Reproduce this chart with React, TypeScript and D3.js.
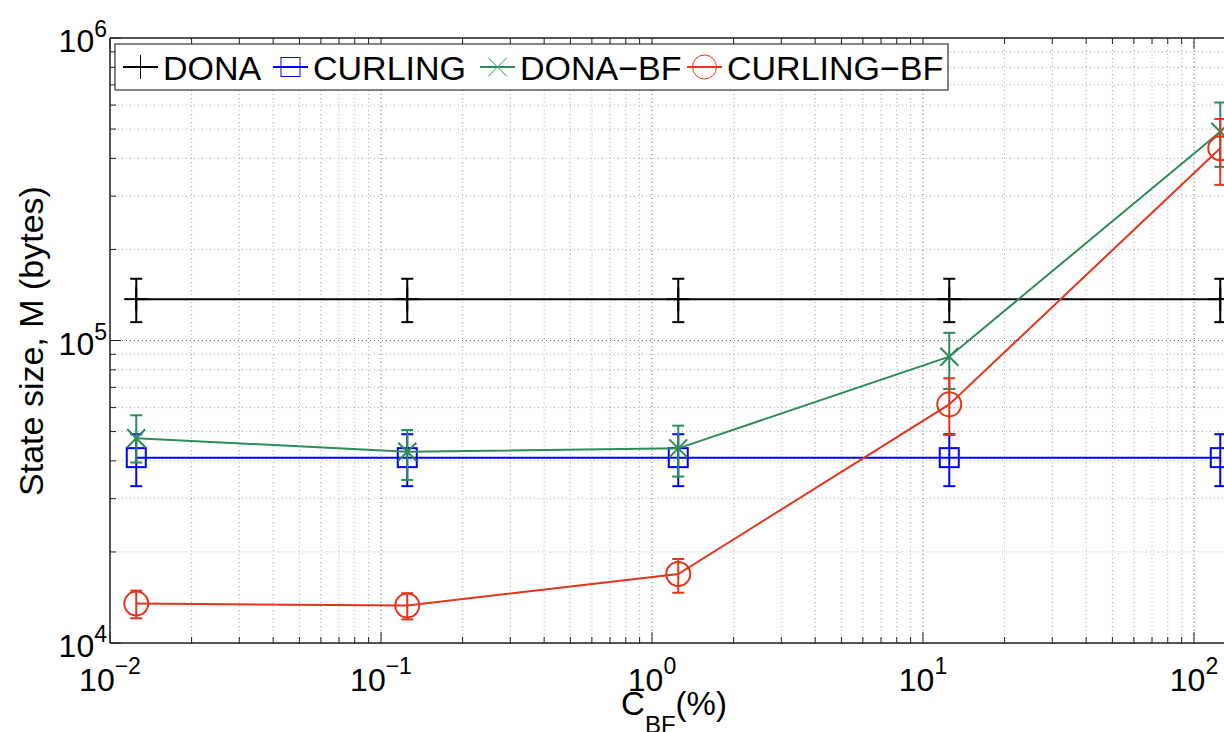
import * as d3 from 'd3';

// C_BF (%) sample points
const xValues = [0.0125, 0.125, 1.25, 12.5, 125];

const donaMean = [137000, 137000, 137000, 137000, 137000];
const donaLow = [115000, 115000, 115000, 115000, 115000];
const donaHigh = [160000, 160000, 160000, 160000, 160000];

const curlingMean = [41000, 41000, 41000, 41000, 41000];
const curlingLow = [33000, 33000, 33000, 33000, 33000];
const curlingHigh = [49000, 49000, 49000, 49000, 49000];

const donaBfMean = [47500, 42900, 44000, 88400, 490000];
const donaBfLow = [39500, 34600, 35500, 69100, 375000];
const donaBfHigh = [56600, 50600, 52300, 106000, 612000];

const curlingBfMean = [13500, 13300, 16900, 61500, 432000];
const curlingBfLow = [12070, 11970, 14660, 48700, 327000];
const curlingBfHigh = [14900, 14600, 18950, 75000, 540000];

const seriesNames = ['DONA', 'CURLING', 'DONA\u2212BF', 'CURLING\u2212BF'];
const seriesColors = ['#000000', '#0000ff', '#2e8b5a', '#e3341c'];
const seriesMarkers = ['plus', 'square', 'cross', 'circle'];

const xTickExps = [-2, -1, 0, 1, 2];
const yTickExps = [4, 5, 6];

const W = 1224;
const H = 732;
const margin = { left: 110, top: 38, bottom: 643 };
const decadeW = 271;
const xMax = Math.pow(10, 2.16);

const FONT = '"Liberation Sans", Arial, Helvetica, sans-serif';

const x = d3
  .scaleLog()
  .domain([0.01, xMax])
  .range([margin.left, margin.left + decadeW * Math.log10(xMax / 0.01)]);
const y = d3.scaleLog().domain([1e4, 1e6]).range([margin.bottom, margin.top]);

const series = seriesNames.map((name, i) => ({
  name,
  color: seriesColors[i],
  marker: seriesMarkers[i],
  mean: [donaMean, curlingMean, donaBfMean, curlingBfMean][i],
  low: [donaLow, curlingLow, donaBfLow, curlingBfLow][i],
  high: [donaHigh, curlingHigh, donaBfHigh, curlingBfHigh][i],
}));

const isMajor = (v: number) => Math.abs(Math.log10(v) - Math.round(Math.log10(v))) < 1e-9;

function Marker({ kind, cx, cy, color, sw = 2 }: { kind: string; cx: number; cy: number; color: string; sw?: number }) {
  if (kind === 'plus') {
    return (
      <g stroke={color} strokeWidth={sw}>
        <line x1={cx - 12} x2={cx + 12} y1={cy} y2={cy} />
        <line x1={cx} x2={cx} y1={cy - 12} y2={cy + 12} />
      </g>
    );
  }
  if (kind === 'square') {
    return <rect x={cx - 9.5} y={cy - 9.5} width={19} height={19} fill="none" stroke={color} strokeWidth={sw} />;
  }
  if (kind === 'cross') {
    return (
      <g stroke={color} strokeWidth={sw}>
        <line x1={cx - 9} x2={cx + 9} y1={cy - 9} y2={cy + 9} />
        <line x1={cx - 9} x2={cx + 9} y1={cy + 9} y2={cy - 9} />
      </g>
    );
  }
  return <circle cx={cx} cy={cy} r={12} fill="none" stroke={color} strokeWidth={sw} />;
}

export default function App() {
  const xTicks = x.ticks();
  const yTicks = y.ticks();
  const line = d3
    .line<number>()
    .x((_, i) => x(xValues[i]))
    .y((d) => y(d));

  const legendX = [123, 273, 480, 687];

  return (
    <svg
      width={W}
      height={H}
      style={{ position: 'absolute', left: 0, top: 0, fontFamily: FONT }}
    >
      <rect width={W} height={H} fill="#fff" />

      {/* grid */}
      {xTicks.map((t, i) => (
        <line
          key={'gx' + i}
          x1={x(t)}
          x2={x(t)}
          y1={margin.top}
          y2={margin.bottom}
          stroke={isMajor(t) ? '#666' : '#aaa'}
          strokeWidth={1}
          strokeDasharray="1,3"
        />
      ))}
      {yTicks.map((t, i) => (
        <line
          key={'gy' + i}
          x1={margin.left}
          x2={W}
          y1={y(t)}
          y2={y(t)}
          stroke={isMajor(t) ? '#666' : '#aaa'}
          strokeWidth={1}
          strokeDasharray="1,3"
        />
      ))}

      {/* axes box */}
      <line x1={margin.left} x2={W} y1={margin.bottom} y2={margin.bottom} stroke="#222" strokeWidth={1.5} />
      <line x1={margin.left} x2={W} y1={margin.top} y2={margin.top} stroke="#222" strokeWidth={1.5} />
      <line x1={margin.left} x2={margin.left} y1={margin.top} y2={margin.bottom} stroke="#222" strokeWidth={1.5} />

      {/* ticks */}
      {xTicks.map((t, i) => {
        const len = isMajor(t) ? 11 : 6;
        return (
          <g key={'tx' + i} stroke="#222" strokeWidth={1}>
            <line x1={x(t)} x2={x(t)} y1={margin.bottom} y2={margin.bottom - len} />
            <line x1={x(t)} x2={x(t)} y1={margin.top} y2={margin.top + len} />
          </g>
        );
      })}
      {yTicks.map((t, i) => {
        const len = isMajor(t) ? 11 : 6;
        return (
          <line key={'ty' + i} x1={margin.left} x2={margin.left + len} y1={y(t)} y2={y(t)} stroke="#222" strokeWidth={1} />
        );
      })}

      {/* tick labels */}
      {xTickExps.map((e) => (
        <text key={'lx' + e} x={x(Math.pow(10, e))} y={691} textAnchor="middle" fontSize={32} fill="#000">
          10
          <tspan fontSize={23} dy={-17}>
            {e < 0 ? '\u2212' + Math.abs(e) : String(e)}
          </tspan>
        </text>
      ))}
      {yTickExps.map((e) => (
        <text key={'ly' + e} x={107} y={y(Math.pow(10, e)) + 14} textAnchor="end" fontSize={32} fill="#000">
          10
          <tspan fontSize={23} dy={-15}>
            {String(e)}
          </tspan>
        </text>
      ))}

      {/* axis titles */}
      <text x={674} y={715} textAnchor="middle" fontSize={33} fill="#000">
        C
        <tspan fontSize={24} dy={18}>
          BF
        </tspan>
        <tspan dy={-18}>(%)</tspan>
      </text>
      <text
        transform={`translate(43, 341) rotate(-90)`}
        textAnchor="middle"
        fontSize={34}
        fill="#000"
      >
        State size, M (bytes)
      </text>

      {/* series */}
      {series.map((s) => (
        <g key={s.name}>
          <path d={line(s.mean) || ''} fill="none" stroke={s.color} strokeWidth={2} />
          {xValues.map((xv, i) => {
            const cx = x(xv);
            return (
              <g key={i} stroke={s.color} strokeWidth={2}>
                <line x1={cx} x2={cx} y1={y(s.low[i])} y2={y(s.high[i])} />
                <line x1={cx - 6} x2={cx + 6} y1={y(s.low[i])} y2={y(s.low[i])} />
                <line x1={cx - 6} x2={cx + 6} y1={y(s.high[i])} y2={y(s.high[i])} />
              </g>
            );
          })}
          {xValues.map((xv, i) => (
            <Marker key={'m' + i} kind={s.marker} cx={x(xv)} cy={y(s.mean[i])} color={s.color} />
          ))}
        </g>
      ))}

      {/* legend */}
      <rect x={115} y={44} width={833} height={46} fill="#fff" stroke="#333" strokeWidth={1.2} />
      {series.map((s, i) => (
        <g key={'lg' + i}>
          <line x1={legendX[i]} x2={legendX[i] + 35} y1={67} y2={67} stroke={s.color} strokeWidth={2} />
          <Marker kind={s.marker} cx={legendX[i] + 17.5} cy={67} color={s.color} sw={1} />
          <text x={legendX[i] + 40} y={80} fontSize={34} fill="#000">
            {s.name}
          </text>
        </g>
      ))}
    </svg>
  );
}
